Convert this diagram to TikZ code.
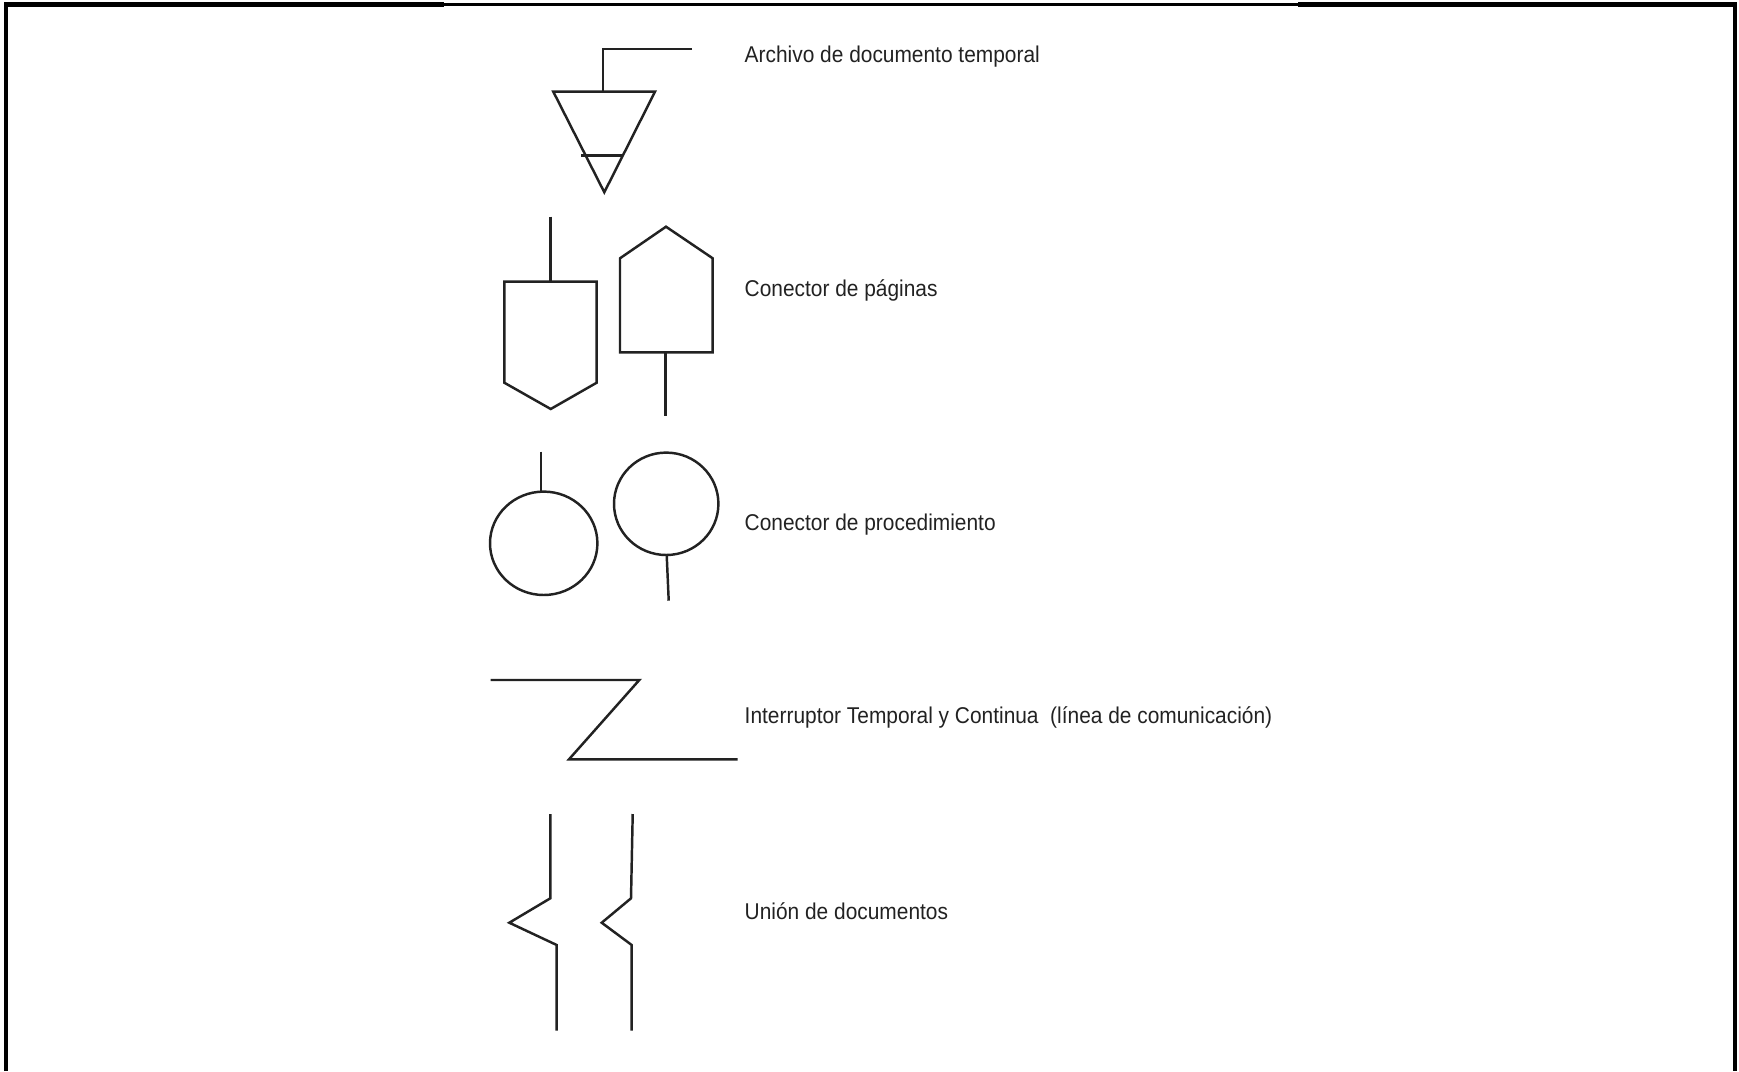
\documentclass[tikz,border=0pt]{standalone}
\usepackage{fontspec}
\setmainfont{Liberation Sans}[FakeStretch=0.915]
\usetikzlibrary{positioning}
\definecolor{ink}{HTML}{222222}
\definecolor{frameink}{HTML}{000000}
\tikzset{line join=miter,
  every node/.style={font=\fontsize{6.5pt}{7.8pt}\selectfont,text=ink},
  sym/.style={draw=ink,line width=.7pt},
  frameline/.style={draw=frameink,line width=1.3pt},
  thinframe/.style={draw=frameink,line width=.95pt},
  lbl/.style={anchor=base west,inner sep=0pt}}
\begin{document}
\begin{tikzpicture}
\path[use as bounding box] (0,0) rectangle (17.39,-10.71);
\draw[frameline] (0.06,-10.71)--(0.06,-0.043)--(4.44,-0.043);
\draw[thinframe] (4.44,-0.048)--(12.98,-0.048);
\draw[frameline] (12.98,-0.043)--(17.35,-0.043)--(17.35,-10.71);
\draw[sym] (6.92,-0.49)--(6.03,-0.49)--(6.03,-0.917);
\draw[sym] (5.533,-0.917)--(6.55,-0.917)--(6.043,-1.923)--cycle;
\draw[sym] (5.81,-1.553)--(6.227,-1.553);
\node[lbl] (archivo) at (7.44,-0.623) {Archivo de documento temporal};
\draw[sym] (5.503,-2.167)--(5.503,-2.817);
\draw[sym] (5.043,-2.817)--(5.967,-2.817)--(5.967,-3.827)--(5.507,-4.09)--(5.043,-3.827)--cycle;
\draw[sym] (6.66,-2.267)--(7.127,-2.583)--(7.127,-3.523)--(6.20,-3.523)--(6.20,-2.583)--cycle;
\draw[sym] (6.653,-3.523)--(6.653,-4.16);
\node[lbl] (paginas) at (7.44,-2.963) {Conector de páginas};
\draw[sym] (5.41,-4.517)--(5.41,-4.917);
\draw[sym] (5.437,-5.433) ellipse (0.537 and 0.517);
\draw[sym] (6.662,-5.038) ellipse (0.522 and 0.512);
\draw[sym] (6.667,-5.55)--(6.687,-6.007);
\node[lbl] (proced) at (7.44,-5.304) {Conector de procedimiento};
\draw[sym] (4.907,-6.80)--(6.393,-6.80)--(5.69,-7.593)--(7.377,-7.593);
\node[lbl] (interr) at (7.44,-7.235) {Interruptor Temporal y Continua~~(línea de comunicación)};
\draw[sym] (5.503,-8.14)--(5.503,-8.983)--(5.093,-9.227)--(5.567,-9.45)--(5.567,-10.307);
\draw[sym] (6.327,-8.14)--(6.31,-8.983)--(6.017,-9.227)--(6.317,-9.45)--(6.317,-10.307);
\node[lbl] (union) at (7.44,-9.196) {Unión de documentos};
\end{tikzpicture}
\end{document}
